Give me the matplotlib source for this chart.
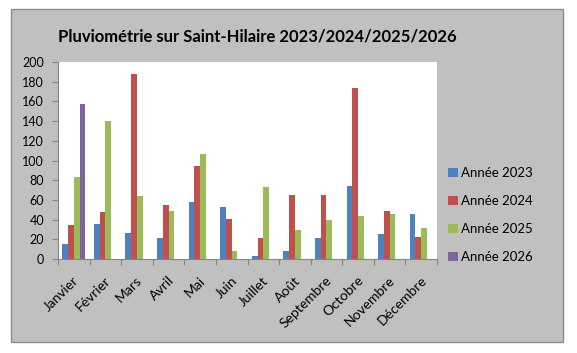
import matplotlib
matplotlib.use("Agg")
import matplotlib.pyplot as plt
import matplotlib.transforms as mtransforms
import numpy as np

plt.rcParams['font.family'] = ['Lato', 'DejaVu Sans']

# Monthly rainfall (mm)
months = ["Janvier", "Février", "Mars", "Avril", "Mai", "Juin", "Juillet",
          "Août", "Septembre", "Octobre", "Novembre", "Décembre"]
annee_2023 = [15, 36, 26, 21, 58, 53, 3, 8, 21, 74, 25, 46]
annee_2024 = [35, 48, 188, 55, 94, 41, 21, 65, 65, 174, 49, 22]
annee_2025 = [83, 140, 64, 49, 107, 8, 73, 29, 40, 44, 46, 31]
annee_2026 = [157, 0, 0, 0, 0, 0, 0, 0, 0, 0, 0, 0]
series_labels = ["Année 2023", "Année 2024", "Année 2025", "Année 2026"]
colors = ['#4F81BD', '#C0504D', '#9BBB59', '#8064A2']
yticks = list(range(0, 201, 20))

bg = '#C0C0C0'
axis_col = '#868686'

fig = plt.figure(figsize=(5.77, 3.53), dpi=100, facecolor='white')

# Gray chart area with a thin border
frame = plt.Rectangle((11 / 577, 1 - 342 / 353), (563 - 11) / 577, (342 - 9) / 353,
                      transform=fig.transFigure, facecolor=bg, edgecolor='#8C8C8C',
                      linewidth=1, zorder=-5)
fig.patches.append(frame)

ax = fig.add_axes([58 / 577, 1 - 259 / 353, (437 - 58) / 577, (259 - 62) / 353])
ax.set_facecolor('white')
ax.set_zorder(2)

x = np.arange(len(months))
width = 0.182
all_series = [annee_2023, annee_2024, annee_2025, annee_2026]
for i, (vals, lab, col) in enumerate(zip(all_series, series_labels, colors)):
    ax.bar(x + (i - 1.5) * width, vals, width=width, color=col, label=lab, linewidth=0)

ax.set_xlim(-0.5, len(months) - 0.5)
ax.set_ylim(0, 200)
ax.set_yticks(yticks)
ax.tick_params(axis='y', labelsize=9, length=4, color=axis_col, pad=6, direction='out')

# Category ticks at the boundaries, labels at the centres
ax.set_xticks(np.arange(-0.5, len(months), 1))
ax.set_xticklabels([])
ax.tick_params(axis='x', which='major', length=4, color=axis_col)
ax.set_xticks(x, minor=True)
ax.set_xticklabels(months, minor=True, rotation=45, ha='right', va='top',
                   rotation_mode='anchor', fontsize=10)
ax.tick_params(axis='x', which='minor', length=0, pad=11)

# nudge the rotated labels a little, like Excel does
shift = mtransforms.ScaledTranslation(-1 / 100, 0, fig.dpi_scale_trans)
for lbl in ax.get_xticklabels(minor=True):
    lbl.set_transform(lbl.get_transform() + shift)

for side in ['top', 'right']:
    ax.spines[side].set_visible(False)
for side in ['left', 'bottom']:
    ax.spines[side].set_color(axis_col)

fig.text(257 / 577, 1 - 36 / 353, "Pluviométrie sur Saint-Hilaire 2023/2024/2025/2026",
         ha='center', va='center', fontsize=12, fontweight='bold')

ax.legend(loc='upper left', bbox_to_anchor=(443 / 577, 1 - 162 / 353),
          bbox_transform=fig.transFigure, frameon=False, fontsize=9.5,
          handlelength=0.7, handleheight=0.7, handletextpad=0.3,
          labelspacing=1.2, borderaxespad=0)

fig.savefig('out.png', dpi=100, facecolor='white')
